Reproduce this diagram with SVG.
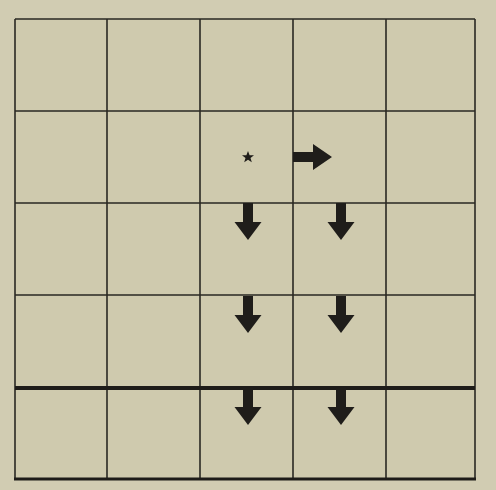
<svg xmlns="http://www.w3.org/2000/svg" width="496" height="490" viewBox="0 0 496 490">
<defs>
<style>
.g{stroke:#2a2823;stroke-width:1.6;fill:none}
.t{stroke:#1e1c19;fill:none}
.a{fill:#1f1d1a}
</style>
<path id="down" class="a" d="M-5,0 H5 V19 H13.5 L0,37 L-13.5,19 H-5 Z"/>
</defs>
<rect width="496" height="490" fill="#d1ccb2"/>
<rect x="15" y="19" width="460" height="460" fill="#cfcaae"/>
<g id="grid">
<path class="g" d="M15,19 H475 M15,111 H475 M15,203 H475 M15,295 H475 M15,19 V479 M107,19 V479 M200,19 V479 M293,19 V479 M386,19 V479 M475,19 V479"/>
<path class="t" stroke-width="4" d="M15,388 H475"/>
<path class="t" stroke-width="3" d="M14,479 H476"/>
</g>
<g id="star"><polygon class="a" points="248,151 249.6,155.3 254,155.3 250.5,158 251.8,162.3 248,159.7 244.2,162.3 245.5,158 242,155.3 246.4,155.3"/></g>
<g id="connectors">
<path id="right" class="a" d="M293,152 H313 V144 L332,157 L313,170 V162 H293 Z"/>
<use href="#down" x="248" y="203"/>
<use href="#down" x="341" y="203"/>
<use href="#down" x="248" y="296"/>
<use href="#down" x="341" y="296"/>
<use href="#down" x="248" y="388"/>
<use href="#down" x="341" y="388"/>
</g>
</svg>
